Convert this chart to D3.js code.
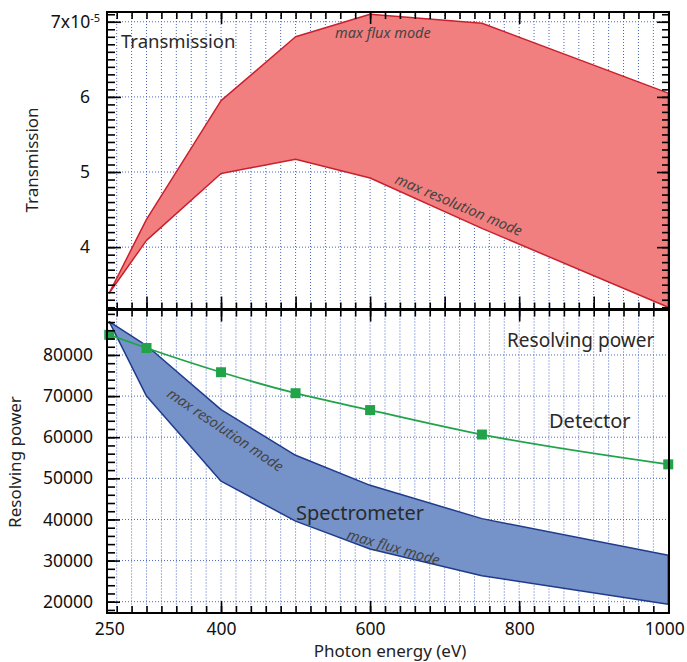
<!DOCTYPE html>
<html>
<head>
<meta charset="utf-8">
<script src="https://cdn.jsdelivr.net/npm/d3@7"></script>
<style>
body { margin: 0; background: #fff; }
text { font-family: "Noto Sans", sans-serif; }
</style>
</head>
<body>
<svg id="chart"></svg>
<script>
// photon energy (eV) of the computed points
var energy = [250, 300, 400, 500, 600, 750, 1000];
// transmission, in units of 1e-5
var transMaxFlux = [3.39, 4.37, 5.95, 6.80, 7.10, 6.98, 6.05];
var transMaxRes = [3.39, 4.09, 4.98, 5.17, 4.92, 4.25, 3.20];
// resolving power
var specMaxRes = [88100, 82300, 66700, 55600, 48300, 40200, 31300];
var specMaxFlux = [88100, 70000, 49300, 39600, 32800, 26300, 19400];
var detector = [84900, 81700, 75800, 70700, 66600, 60650, 53400];

var xTickLabels = [250, 400, 600, 800, 1000];
var transTicks = [4, 5, 6, 7];
var resTicks = [20000, 30000, 40000, 50000, 60000, 70000, 80000];

var svgWidth = 687, svgHeight = 662;
var left = 107, right = 669, top1 = 12, mid = 309.5, bot = 613;

var svg = d3.select('#chart')
    .attr('width', svgWidth)
    .attr('height', svgHeight);

var x = d3.scaleLinear().domain([247, 1001]).range([left, right]);
var yT = d3.scaleLinear().domain([3.17, 7.13]).range([mid, top1]);
var yR = d3.scaleLinear().domain([17250, 91060]).range([bot, mid]);

var gridColor = '#4a66c6';
var xGrid = d3.range(260, 1000, 20);
var xMinor = d3.range(260, 1001, 20);
var fmt = d3.format('d');

// dotted grid
function grid(y, yVals, y0, y1) {
    var g = svg.append('g')
        .attr('stroke', gridColor)
        .attr('stroke-width', 1)
        .attr('stroke-dasharray', '1,2');
    g.selectAll('line.v').data(xGrid).enter().append('line')
        .attr('x1', function(d){ return x(d); })
        .attr('x2', function(d){ return x(d); })
        .attr('y1', y0).attr('y2', y1);
    g.selectAll('line.h').data(yVals).enter().append('line')
        .attr('x1', left).attr('x2', right)
        .attr('y1', function(d){ return y(d); })
        .attr('y2', function(d){ return y(d); });
}
grid(yT, transTicks, top1, mid);
grid(yR, resTicks, mid, bot);

// transmission band
var tData = energy.map(function(e, i){ return {e: e, lo: transMaxRes[i], hi: transMaxFlux[i]}; });
var tArea = d3.area()
    .x(function(d){ return x(d.e); })
    .y0(function(d){ return yT(d.lo); })
    .y1(function(d){ return yT(d.hi); });
svg.append('path')
    .datum(tData)
    .attr('d', tArea)
    .attr('fill', '#f17f7f')
    .attr('stroke', '#c9202c')
    .attr('stroke-width', 1.5)
    .attr('stroke-linejoin', 'round');

// spectrometer band
var sData = energy.map(function(e, i){ return {e: e, lo: specMaxFlux[i], hi: specMaxRes[i]}; });
var sArea = d3.area()
    .x(function(d){ return x(d.e); })
    .y0(function(d){ return yR(d.lo); })
    .y1(function(d){ return yR(d.hi); });
svg.append('path')
    .datum(sData)
    .attr('d', sArea)
    .attr('fill', '#7592c9')
    .attr('stroke', '#1f3b8c')
    .attr('stroke-width', 1.5)
    .attr('stroke-linejoin', 'round');

// detector
var dData = energy.map(function(e, i){ return {e: e, v: detector[i]}; });
svg.append('path')
    .datum(dData)
    .attr('d', d3.line()
        .x(function(d){ return x(d.e); })
        .y(function(d){ return yR(d.v); })
        .curve(d3.curveMonotoneX))
    .attr('fill', 'none')
    .attr('stroke', '#22a34a')
    .attr('stroke-width', 1.8);
svg.selectAll('rect.pt')
    .data(dData)
    .enter()
    .append('rect')
    .attr('class', 'pt')
    .attr('x', function(d){ return x(d.e) - 5; })
    .attr('y', function(d){ return yR(d.v) - 5; })
    .attr('width', 10)
    .attr('height', 10)
    .attr('fill', '#22a34a');

// frames
svg.append('rect').attr('x', left).attr('y', top1).attr('width', right - left).attr('height', mid - top1)
    .attr('fill', 'none').attr('stroke', '#000').attr('stroke-width', 2);
svg.append('rect').attr('x', left).attr('y', mid).attr('width', right - left).attr('height', bot - mid)
    .attr('fill', 'none').attr('stroke', '#000').attr('stroke-width', 2);
svg.append('line').attr('x1', left).attr('x2', right).attr('y1', mid).attr('y2', mid)
    .attr('stroke', '#000').attr('stroke-width', 3);

// tick helper: draws ticks only (no domain)
function ticks(axis, tx, ty) {
    var g = svg.append('g')
        .attr('transform', 'translate(' + tx + ',' + ty + ')')
        .call(axis);
    g.select('.domain').remove();
    g.selectAll('.tick line').attr('stroke', '#000').attr('stroke-width', 1.6);
    return g;
}
function noLabel() { return ''; }
var transMinor = d3.range(32, 72).map(function(d){ return d / 10; });

// top panel
ticks(d3.axisLeft(yT).tickValues(transMinor).tickSize(-8).tickFormat(noLabel), left, 0);
var gT = ticks(d3.axisLeft(yT).tickValues(transTicks).tickSize(-14).tickPadding(17).tickFormat(fmt), left, 0);
ticks(d3.axisRight(yT).tickValues(transMinor).tickSize(-7).tickFormat(noLabel), right, 0);
ticks(d3.axisRight(yT).tickValues(transTicks).tickSize(-12).tickFormat(noLabel), right, 0);
ticks(d3.axisTop(x).tickValues(xMinor).tickSize(-7).tickFormat(noLabel), 0, top1);
ticks(d3.axisTop(x).tickValues([400, 600, 800]).tickSize(-12).tickFormat(noLabel), 0, top1);
ticks(d3.axisBottom(x).tickValues(xMinor).tickSize(-7).tickFormat(noLabel), 0, mid);
ticks(d3.axisBottom(x).tickValues(d3.range(300, 1000, 100)).tickSize(-13).tickFormat(noLabel), 0, mid);

// bottom panel
ticks(d3.axisTop(x).tickValues(xMinor).tickSize(-7).tickFormat(noLabel), 0, mid);
ticks(d3.axisTop(x).tickValues([400, 600, 800]).tickSize(-12).tickFormat(noLabel), 0, mid);
ticks(d3.axisLeft(yR).tickValues(d3.range(18000, 91000, 2000)).tickSize(-8).tickFormat(noLabel), left, 0);
var gR = ticks(d3.axisLeft(yR).tickValues(resTicks).tickSize(-13).tickPadding(14).tickFormat(fmt), left, 0);
ticks(d3.axisBottom(x).tickValues(xMinor).tickSize(-7).tickFormat(noLabel), 0, bot);
ticks(d3.axisBottom(x).tickValues([400, 600, 800, 1000]).tickSize(-12).tickFormat(noLabel), 0, bot);
var gX = ticks(d3.axisBottom(x).tickValues(xTickLabels).tickSize(0).tickPadding(10).tickFormat(fmt), 0, bot);

[gT, gR, gX].forEach(function(g){
    g.selectAll('.tick text')
        .attr('fill', '#111')
        .style('font-size', '17.5px')
        .style('font-family', '"Noto Sans", sans-serif');
});
gT.selectAll('.tick text')
    .filter(function(d){ return d === 7; })
    .attr('x', -7)
    .text('7x10')
    .append('tspan')
    .attr('dy', '-0.55em')
    .style('font-size', '11px')
    .text('-5');
gX.selectAll('.tick text')
    .filter(function(d){ return d === 1000; })
    .attr('x', -4);

// axis titles
svg.append('text')
    .attr('transform', 'translate(38,160) rotate(-90)')
    .attr('text-anchor', 'middle')
    .attr('fill', '#222')
    .style('font-size', '17px')
    .text('Transmission');
svg.append('text')
    .attr('transform', 'translate(20.5,462) rotate(-90)')
    .attr('text-anchor', 'middle')
    .attr('fill', '#222')
    .style('font-size', '17px')
    .text('Resolving power');
svg.append('text')
    .attr('x', 390).attr('y', 657)
    .attr('text-anchor', 'middle')
    .attr('fill', '#222')
    .style('font-size', '17px')
    .text('Photon energy (eV)');

// in-plot labels
function label(txt, tx, ty, size, rot, italic, color) {
    svg.append('text')
        .attr('transform', 'translate(' + tx + ',' + ty + ') rotate(' + (rot || 0) + ')')
        .attr('fill', color || '#2a2a2a')
        .style('font-size', size + 'px')
        .style('font-style', italic ? 'italic' : 'normal')
        .text(txt);
}
label('Transmission', 121, 48, 18.5);
label('Resolving power', 507, 347, 19);
label('Detector', 549, 428, 20);
label('Spectrometer', 296, 520, 20);
label('max flux mode', 335, 38, 14.5, 0, true, '#444');
label('max resolution mode', 394, 183, 14.5, 23, true, '#444');
label('max resolution mode', 166, 396, 14.5, 34, true, '#444');
label('max flux mode', 346, 539, 14.5, 16, true, '#444');
</script>
</body>
</html>
